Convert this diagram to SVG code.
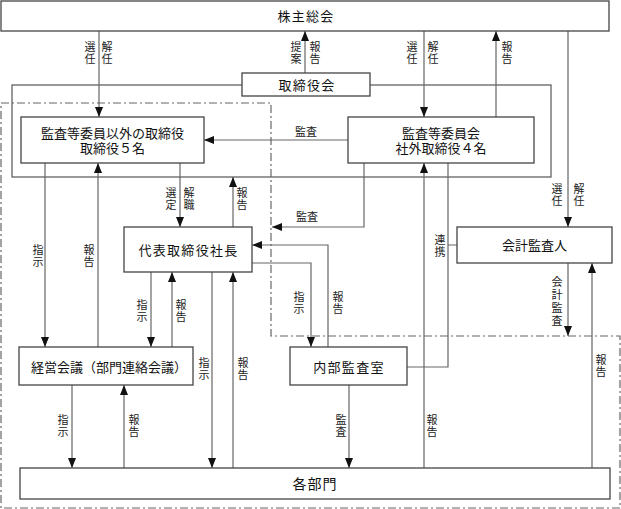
<svg xmlns="http://www.w3.org/2000/svg" width="621" height="509" viewBox="0 0 621 509">
<defs>
<marker id="ah" markerUnits="userSpaceOnUse" markerWidth="10" markerHeight="8" viewBox="0 0 10 8" refX="10" refY="4" orient="auto">
<path d="M0,0 L10,4 L0,8 z" fill="#111"/>
</marker>
<style>
.box{fill:#fff;stroke:#444;stroke-width:1.3}
.frame{fill:none;stroke:#555;stroke-width:1.2}
.dd{fill:none;stroke:#666;stroke-width:1.2;stroke-dasharray:8 3 2 3}
.c{fill:none;stroke:#666;stroke-width:1.2}
.a{marker-end:url(#ah)}
.t{font-family:"Noto Sans CJK JP","Noto Sans",sans-serif;font-size:13px;fill:#111;text-anchor:middle}
.s{font-family:"Noto Sans CJK JP","Noto Sans",sans-serif;font-size:11px;fill:#222;text-anchor:middle}
.w{letter-spacing:1.3px}
</style>
</defs>

<g id="frames">
<rect class="frame" x="12" y="85" width="539" height="92"/>
<path class="dd" d="M1,103 H271 V336 H620 V508 H1 Z"/>
</g>

<g id="connectors">
<path class="c a" d="M99,31 V117"/>
<path class="c a" d="M305,73 V31"/>
<path class="c a" d="M424,31 V117"/>
<path class="c a" d="M496,117 V31"/>
<path class="c a" d="M568,31 V227"/>
<path class="c a" d="M348,140 H204"/>
<path class="c a" d="M364,163 V227 H272"/>
<path class="c a" d="M45,163 V347"/>
<path class="c a" d="M98,347 V163"/>
<path class="c a" d="M180,163 V227"/>
<path class="c a" d="M233,227 V177"/>
<path class="c a" d="M328,347 V245 H252"/>
<path class="c a" d="M252,263 H311 V347"/>
<path class="c a" d="M151,272 V347"/>
<path class="c a" d="M172,347 V272"/>
<path class="c a" d="M212,272 V468"/>
<path class="c a" d="M233,468 V272"/>
<path class="c a" d="M72,385 V468"/>
<path class="c a" d="M124,468 V385"/>
<path class="c a" d="M349,385 V468"/>
<path class="c a" d="M424,468 V163"/>
<path class="c" d="M448,163 V367 H407 M448,245 H457"/>
<path class="c a" d="M568,263 V336"/>
<path class="c a" d="M592,468 V263"/>

<text class="s" x="90" y="51"><tspan x="90">選</tspan><tspan x="90" dy="12">任</tspan></text>
<text class="s" x="107" y="51"><tspan x="107">解</tspan><tspan x="107" dy="12">任</tspan></text>
<text class="s" x="296" y="51"><tspan x="296">提</tspan><tspan x="296" dy="12">案</tspan></text>
<text class="s" x="315" y="51"><tspan x="315">報</tspan><tspan x="315" dy="12">告</tspan></text>
<text class="s" x="412" y="51"><tspan x="412">選</tspan><tspan x="412" dy="12">任</tspan></text>
<text class="s" x="433" y="51"><tspan x="433">解</tspan><tspan x="433" dy="12">任</tspan></text>
<text class="s" x="507" y="51"><tspan x="507">報</tspan><tspan x="507" dy="12">告</tspan></text>
<text class="s" x="557" y="193"><tspan x="557">選</tspan><tspan x="557" dy="12">任</tspan></text>
<text class="s" x="579" y="193"><tspan x="579">解</tspan><tspan x="579" dy="12">任</tspan></text>
<text class="s" x="306" y="136">監査</text>
<text class="s" x="307" y="221">監査</text>
<text class="s" x="38" y="254"><tspan x="38">指</tspan><tspan x="38" dy="12">示</tspan></text>
<text class="s" x="89" y="254"><tspan x="89">報</tspan><tspan x="89" dy="12">告</tspan></text>
<text class="s" x="171" y="197"><tspan x="171">選</tspan><tspan x="171" dy="12">定</tspan></text>
<text class="s" x="189" y="197"><tspan x="189">解</tspan><tspan x="189" dy="12">職</tspan></text>
<text class="s" x="242" y="197"><tspan x="242">報</tspan><tspan x="242" dy="12">告</tspan></text>
<text class="s" x="142" y="309"><tspan x="142">指</tspan><tspan x="142" dy="12">示</tspan></text>
<text class="s" x="181" y="309"><tspan x="181">報</tspan><tspan x="181" dy="12">告</tspan></text>
<text class="s" x="204" y="367"><tspan x="204">指</tspan><tspan x="204" dy="12">示</tspan></text>
<text class="s" x="243" y="367"><tspan x="243">報</tspan><tspan x="243" dy="12">告</tspan></text>
<text class="s" x="299" y="301"><tspan x="299">指</tspan><tspan x="299" dy="12">示</tspan></text>
<text class="s" x="338" y="301"><tspan x="338">報</tspan><tspan x="338" dy="12">告</tspan></text>
<text class="s" x="440" y="244"><tspan x="440">連</tspan><tspan x="440" dy="12">携</tspan></text>
<text class="s" x="557" y="286"><tspan x="557">会</tspan><tspan x="557" dy="13">計</tspan><tspan x="557" dy="13">監</tspan><tspan x="557" dy="13">査</tspan></text>
<text class="s" x="601" y="364"><tspan x="601">報</tspan><tspan x="601" dy="12">告</tspan></text>
<text class="s" x="63" y="424"><tspan x="63">指</tspan><tspan x="63" dy="12">示</tspan></text>
<text class="s" x="134" y="424"><tspan x="134">報</tspan><tspan x="134" dy="12">告</tspan></text>
<text class="s" x="341" y="424"><tspan x="341">監</tspan><tspan x="341" dy="12">査</tspan></text>
<text class="s" x="432" y="424"><tspan x="432">報</tspan><tspan x="432" dy="12">告</tspan></text>
</g>

<g id="n-shareholders">
<rect class="box" x="1" y="1" width="608" height="30"/>
<text class="t w" x="306" y="21">株主総会</text>
</g>
<g id="n-board">
<rect class="box" x="242" y="73" width="128" height="23"/>
<text class="t w" x="307" y="89.5">取締役会</text>
</g>
<g id="n-directors">
<rect class="box" x="21" y="117" width="183" height="46"/>
<text class="t" x="112.5" y="137.5">監査等委員以外の取締役</text>
<text class="t" x="112.5" y="153">取締役５名</text>
</g>
<g id="n-audit-committee">
<rect class="box" x="348" y="117" width="186" height="46"/>
<text class="t" x="441" y="137.5">監査等委員会</text>
<text class="t" x="441" y="153">社外取締役４名</text>
</g>
<g id="n-president">
<rect class="box" x="124" y="227" width="128" height="45"/>
<text class="t w" x="188.5" y="254.5">代表取締役社長</text>
</g>
<g id="n-accounting-auditor">
<rect class="box" x="457" y="227" width="155" height="36"/>
<text class="t" x="534.5" y="249.5">会計監査人</text>
</g>
<g id="n-management-meeting">
<rect class="box" x="19" y="347" width="174" height="38"/>
<text class="t" x="109" y="371.5">経営会議（部門連絡会議）</text>
</g>
<g id="n-internal-audit">
<rect class="box" x="290" y="347" width="117" height="38"/>
<text class="t w" x="349" y="371.5">内部監査室</text>
</g>
<g id="n-departments">
<rect class="box" x="20" y="468" width="590" height="31"/>
<text class="t" x="315" y="489" style="font-size:14px;letter-spacing:1px">各部門</text>
</g>
</svg>
